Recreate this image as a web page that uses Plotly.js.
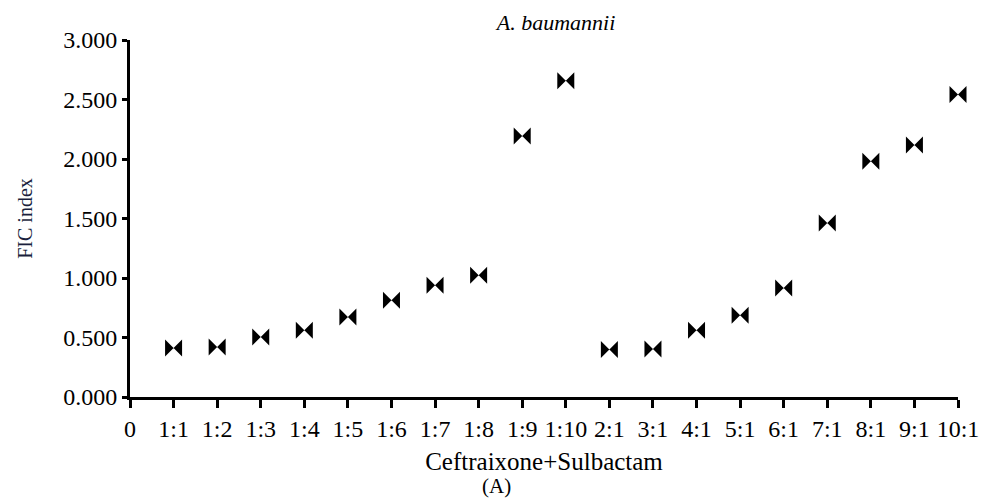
<!DOCTYPE html>
<html>
<head>
<meta charset="utf-8">
<script src="https://cdn.plot.ly/plotly-3.0.1.min.js"></script>
<style>html,body{margin:0;padding:0;background:#fff;}#chart{width:989px;height:503px;}</style>
</head>
<body>
<div id="chart"></div>
<script>
const tickLabels = ["0","1:1","1:2","1:3","1:4","1:5","1:6","1:7","1:8","1:9","1:10","2:1","3:1","4:1","5:1","6:1","7:1","8:1","9:1","10:1"];
const ratios = ["1:1","1:2","1:3","1:4","1:5","1:6","1:7","1:8","1:9","1:10","2:1","3:1","4:1","5:1","6:1","7:1","8:1","9:1","10:1"];
const ficIndex = [0.412,0.420,0.505,0.561,0.673,0.813,0.939,1.024,2.193,2.658,0.399,0.403,0.561,0.687,0.917,1.463,1.982,2.117,2.543];
const yTicks = [0,0.5,1,1.5,2,2.5,3];

const xPos = ratios.map(r => tickLabels.indexOf(r));
const tickVals = tickLabels.map((t,i) => i);

const serif = "'Liberation Serif', 'Times New Roman', Times, serif";

const trace = {
  x: xPos,
  y: ficIndex,
  type: "scatter",
  mode: "markers",
  cliponaxis: false,
  marker: {symbol: "bowtie", size: 17, color: "#000", line: {width: 0}},
  hoverinfo: "skip",
  showlegend: false
};

const layout = {
  width: 989, height: 503,
  margin: {l: 130, r: 31, t: 40, b: 106},
  paper_bgcolor: "#fff", plot_bgcolor: "#fff",
  font: {family: serif, color: "#000", size: 24},
  xaxis: {
    range: [0, 19],
    tickmode: "array", tickvals: tickVals, ticktext: tickLabels,
    showline: true, linecolor: "#000", linewidth: 3,
    ticks: "outside", ticklen: 8, tickwidth: 3, tickcolor: "#000",
    showgrid: false, zeroline: false,
    tickfont: {family: serif, size: 24, color: "#000"},
    title: {text: "Ceftraixone+Sulbactam", font: {family: serif, size: 25, color: "#000"}, standoff: 12}
  },
  yaxis: {
    range: [0, 3],
    tickmode: "array", tickvals: yTicks,
    tickformat: ".3f",
    showline: true, linecolor: "#000", linewidth: 3,
    ticks: "outside", ticklen: 5, tickwidth: 3, tickcolor: "#000",
    showgrid: false, zeroline: false,
    tickfont: {family: serif, size: 24, color: "#000"},
    title: {text: "FIC index", font: {family: serif, size: 20, color: "#1a1f3d"}, standoff: 26}
  },
  title: {
    text: "<i>A. baumannii</i>",
    font: {family: serif, size: 22, color: "#000"},
    x: 556 / 989, xref: "container", xanchor: "center",
    y: 1 - 22 / 503, yref: "container", yanchor: "middle"
  },
  annotations: [{
    text: "(A)", xref: "paper", yref: "paper",
    x: (496 - 130) / 828, y: -0.25, xanchor: "center", yanchor: "middle",
    showarrow: false, font: {family: serif, size: 21, color: "#000"}
  }]
};

Plotly.newPlot("chart", [trace], layout, {displayModeBar: false, staticPlot: true});
</script>
</body>
</html>
